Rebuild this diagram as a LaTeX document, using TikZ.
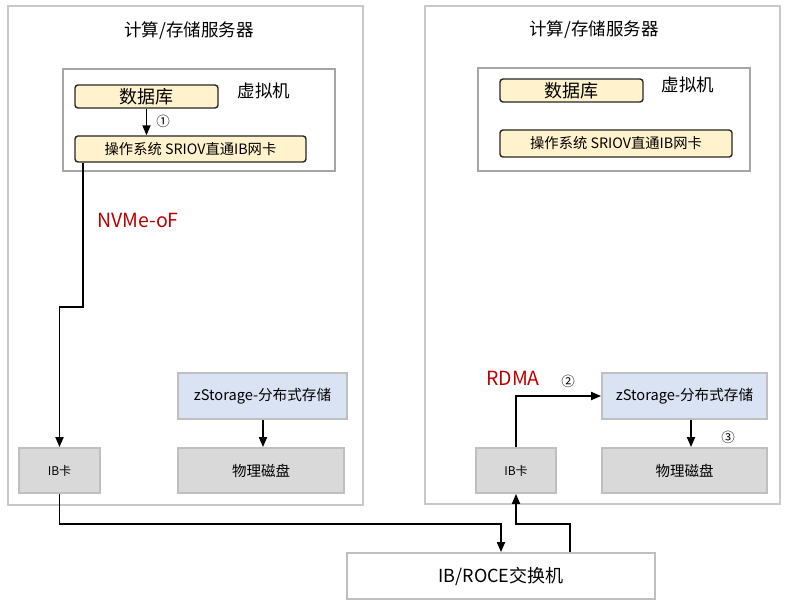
\documentclass[tikz,border=0pt]{standalone}
\usepackage{fontspec}
\setmainfont{Noto Sans CJK SC}
\usetikzlibrary{arrows.meta}
\definecolor{srvborder}{HTML}{C8C8C8}
\definecolor{vmborder}{HTML}{A6A6A6}
\definecolor{cream}{HTML}{FFF2CC}
\definecolor{lblue}{HTML}{DAE3F3}
\definecolor{lgray}{HTML}{D9D9D9}
\definecolor{bborder}{HTML}{BFBFBF}
\definecolor{redtxt}{HTML}{C00000}
\tikzset{
  server/.style={draw=srvborder, line width=1.8pt, fill=white},
  vmbox/.style={draw=vmborder, line width=1.8pt},
  creambox/.style={draw=black!85, line width=1.4pt, fill=cream, rounded corners=3pt, inner sep=0pt},
  bluebox/.style={draw=bborder, line width=1.8pt, fill=lblue, inner sep=0pt, font=\fontsize{14.6}{16}\selectfont},
  graybox/.style={draw=bborder, line width=1.8pt, fill=lgray, inner sep=0pt},
  swbox/.style={draw=bborder, line width=1.8pt, fill=white, inner sep=0pt, font=\fontsize{18}{20}\selectfont},
  arr/.style={line width=1.8pt, -{Triangle[length=10pt,width=8pt]}},
  redlbl/.style={text=redtxt, font=\fontsize{19.5}{22}\selectfont},
  circ/.style={font=\fontsize{13.5}{15}\selectfont},
  ttl/.style={font=\fontsize{17.5}{20}\selectfont},
}
\begin{document}
\begin{tikzpicture}[x=1pt,y=-1pt]
\useasboundingbox (0,0) rectangle (800,600);
% server boxes
\draw[server] (8,6) rectangle (363,505);
\draw[server] (425,6) rectangle (780,504);
\node[ttl] (t1) at (189,31) {计算/存储服务器};
\node[ttl] (t2) at (594,30) {计算/存储服务器};
% VM boxes
\draw[vmbox] (63,69) rectangle (335,171);
\draw[vmbox] (478,68) rectangle (750,171);
\node[ttl] (vm1) at (264,91) {虚拟机};
\node[ttl] (vm2) at (688,85) {虚拟机};
% left VM content
\node[creambox, minimum width=143pt, minimum height=23pt, font=\fontsize{18}{20}\selectfont] (db1) at (146.5,96.5) {数据库};
\node[creambox, minimum width=231pt, minimum height=26pt, font=\fontsize{14.3}{16}\selectfont] (os1) at (190.5,149) {操作系统 SRIOV直通IB网卡};
% right VM content
\node[creambox, minimum width=143pt, minimum height=23pt, font=\fontsize{18}{20}\selectfont] (db2) at (571.5,90.5) {数据库};
\node[creambox, minimum width=232pt, minimum height=27pt, font=\fontsize{14.3}{16}\selectfont] (os2) at (616,143.5) {操作系统 SRIOV直通IB网卡};
% left lower boxes
\node[bluebox, minimum width=169pt, minimum height=46pt] (zs1) at (262.5,396) {zStorage-分布式存储};
\node[graybox, minimum width=166pt, minimum height=45pt, font=\fontsize{14.5}{16}\selectfont] (dk1) at (261,470.5) {物理磁盘};
\node[graybox, minimum width=81pt, minimum height=45pt, font=\fontsize{12}{14}\selectfont] (ib1) at (59.5,470.5) {IB卡};
% right lower boxes
\node[bluebox, minimum width=165pt, minimum height=46pt] (zs2) at (684.5,396) {zStorage-分布式存储};
\node[graybox, minimum width=165pt, minimum height=45pt, font=\fontsize{14.5}{16}\selectfont] (dk2) at (684.5,470.5) {物理磁盘};
\node[graybox, minimum width=80pt, minimum height=45pt, font=\fontsize{12}{14}\selectfont] (ib2) at (516,470.5) {IB卡};
% switch
\node[swbox, minimum width=308pt, minimum height=46pt] (sw) at (501,576) {IB/ROCE交换机};
% labels
\node[redlbl] (nv) at (138,220) {NVMe-oF};
\node[redlbl] (rd) at (513,378) {RDMA};
\node[circ] (c1) at (163,121) {①};
\node[circ] (c2) at (568,381) {②};
\node[circ] (c3) at (728,437) {③};
% connectors
\draw[arr] (db1.south) -- (db1.south |- os1.north);
\draw[arr] ([xshift=9pt]os1.south west) -- ++(0,144) -| (ib1.north);
\draw[arr] ([xshift=0.5pt]zs1.south) -- ([xshift=0.5pt]zs1.south |- dk1.north);
\draw[arr] (ib1.south) -- ++(0,30) -| (sw.north);
\draw[arr] ([xshift=69pt]sw.north) -- ++(0,-28) -| (ib2.south);
\draw[arr] (ib2.north) |- (zs2.west);
\draw[arr] ([xshift=6.5pt]zs2.south) -- ([xshift=6.5pt]zs2.south |- dk2.north);
\end{tikzpicture}
\end{document}
